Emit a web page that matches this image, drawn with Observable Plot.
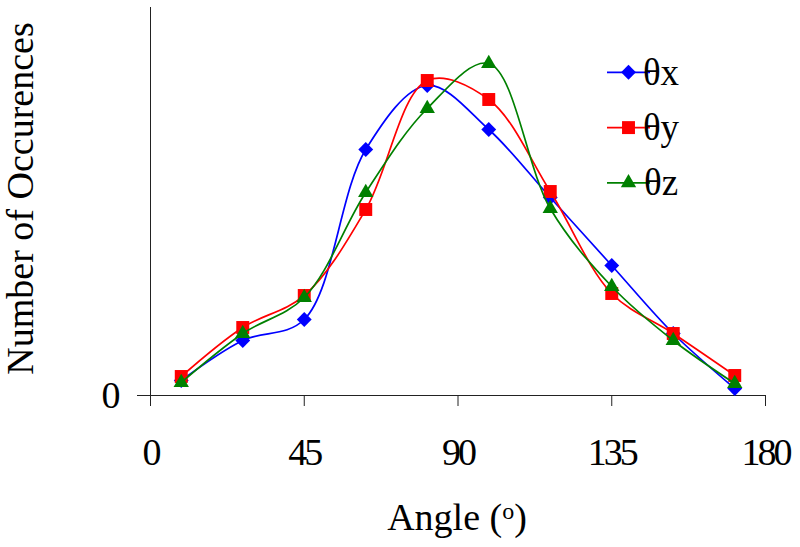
<!DOCTYPE html>
<html>
<head>
<meta charset="utf-8">
<script src="https://cdn.jsdelivr.net/npm/d3@7"></script>
<script src="https://cdn.jsdelivr.net/npm/@observablehq/plot@0.6"></script>
<style>
  html, body { margin: 0; padding: 0; background: #fff; }
  #chart svg { display: block; }
  g[aria-label="x-axis tick label"] text { letter-spacing: -3px; }
  g[aria-label="y-axis tick label"] text { letter-spacing: -3px; }
</style>
</head>
<body>
<div id="chart"></div>
<script>
// Data (arbitrary count units, y axis shows only 0)
const angles = [9, 27, 45, 63, 81, 99, 117, 135, 153, 171];
const thetaX = [15, 55, 76, 246, 310, 266, 198, 130, 62, 7];
const thetaY = [19, 68, 100, 186, 315, 296, 204, 102, 62, 20];
const thetaZ = [13, 62, 98, 203, 287, 332, 187, 109, 55, 12];
const seriesNames = ["θx", "θy", "θz"];
const seriesColors = ["#0000ff", "#ff0000", "#008000"];
const seriesSymbols = ["diamond2", "square", "triangle"];
const seriesR = [6.7, 7.3, 5.7];
const xTicks = [0, 45, 90, 135, 180];
const yTicks = [0];
const xLabel = "Angle (";
const yLabel = "Number of Occurences";

const seriesValues = [thetaX, thetaY, thetaZ];
const series = seriesNames.map((name, i) => ({
  name,
  color: seriesColors[i],
  symbol: seriesSymbols[i],
  r: seriesR[i],
  data: angles.map((a, j) => ({ angle: a, value: seriesValues[i][j] }))
}));

const marks = [
  Plot.ruleX([0], { stroke: "#222", strokeWidth: 1 }),
  Plot.ruleY([0], { stroke: "#222", strokeWidth: 1 }),
  Plot.axisX({
    ticks: xTicks, tickSize: 11, tickPadding: 32, label: null,
    tickFormat: d => String(d), fontSize: 38, stroke: "#222", fill: "#000"
  }),
  Plot.axisY({
    ticks: yTicks, tickSize: 13, tickPadding: 20, label: null,
    tickFormat: d => String(d), fontSize: 38, stroke: "#222", fill: "#000"
  })
];
for (const s of series) {
  marks.push(Plot.line(s.data, {
    x: "angle", y: "value", stroke: s.color, strokeWidth: 1.7, curve: "catmull-rom"
  }));
  marks.push(Plot.dot(s.data, {
    x: "angle", y: "value", symbol: () => s.symbol, fill: s.color, stroke: "none", r: s.r
  }));
}

const svg = Plot.plot({
  width: 800,
  height: 547,
  marginLeft: 150,
  marginRight: 35,
  marginTop: 7,
  marginBottom: 152,
  style: { fontFamily: "'Liberation Serif', 'Times New Roman', serif", fontSize: "38px", background: "#fff", color: "#000" },
  x: { domain: [0, 180] },
  y: { domain: [0, 388] },
  symbol: { type: "identity" },
  marks
});
document.getElementById("chart").appendChild(svg);

const root = d3.select(svg);
// Axis titles
root.append("text")
  .attr("transform", "translate(33,198.5) rotate(-90)")
  .attr("text-anchor", "middle")
  .attr("font-size", 38)
  .attr("fill", "#000")
  .text(yLabel);
const xl = root.append("text")
  .attr("x", 457).attr("y", 530)
  .attr("text-anchor", "middle")
  .attr("font-size", 38)
  .attr("fill", "#000");
xl.append("tspan").text(xLabel);
xl.append("tspan").attr("font-size", 24).attr("dy", -11).text("o");
xl.append("tspan").attr("dy", 11).text(")");

// Legend
const symMap = { diamond2: d3.symbolDiamond2, square: d3.symbolSquare, triangle: d3.symbolTriangle };
const leg = root.append("g");
series.forEach((s, i) => {
  const cy = 72.3 + i * 55.3;
  const g = leg.append("g").attr("transform", `translate(0,${cy})`);
  g.append("line").attr("x1", 607).attr("x2", 650).attr("y1", 0).attr("y2", 0)
    .attr("stroke", s.color).attr("stroke-width", 1.7);
  g.append("path").attr("transform", "translate(628.5,0)")
    .attr("d", d3.symbol(symMap[s.symbol], Math.PI * s.r * s.r)())
    .attr("fill", s.color);
  g.append("text").attr("x", 661).attr("y", 12.5)
    .attr("font-size", 37).attr("fill", "#000").text(s.name);
});
</script>
</body>
</html>
